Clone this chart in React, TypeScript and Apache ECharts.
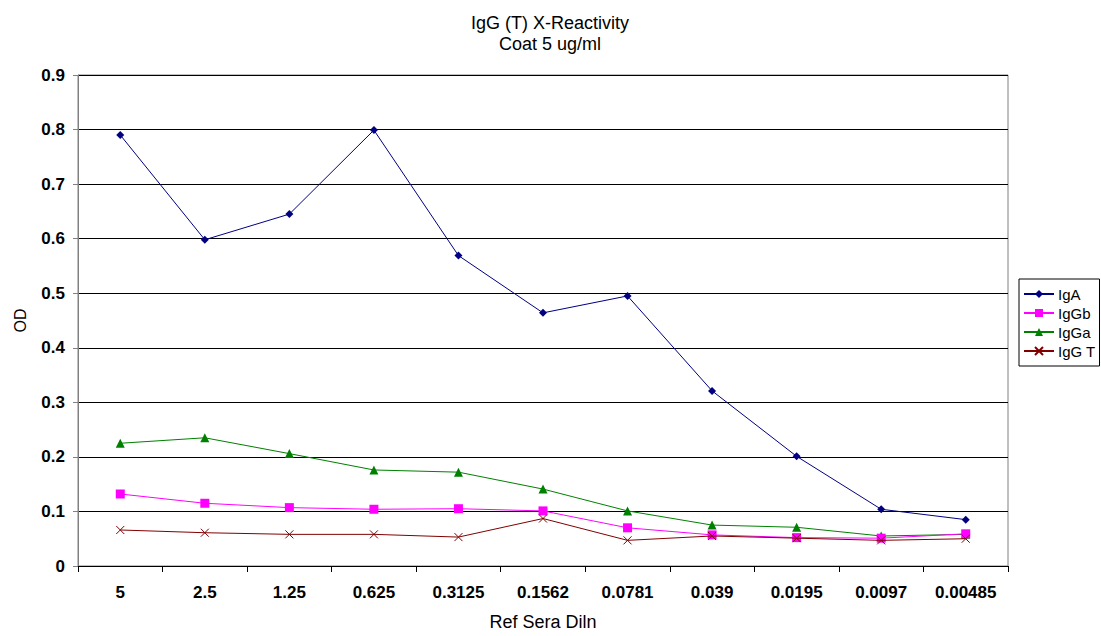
import React, { useEffect, useRef } from "react";
import * as echarts from "echarts";

const categories = ["5", "2.5", "1.25", "0.625", "0.3125", "0.1562", "0.0781", "0.039", "0.0195", "0.0097", "0.00485"];
const igA = [0.79, 0.598, 0.645, 0.799, 0.569, 0.464, 0.495, 0.321, 0.201, 0.104, 0.085];
const igGb = [0.132, 0.115, 0.107, 0.104, 0.105, 0.101, 0.07, 0.057, 0.052, 0.051, 0.059];
const igGa = [0.225, 0.235, 0.206, 0.176, 0.172, 0.141, 0.101, 0.075, 0.071, 0.055, 0.058];
const igGT = [0.066, 0.061, 0.058, 0.058, 0.053, 0.087, 0.047, 0.055, 0.051, 0.047, 0.05];
const yTicks = [0, 0.1, 0.2, 0.3, 0.4, 0.5, 0.6, 0.7, 0.8, 0.9];

export default function App() {
  const ref = useRef<HTMLDivElement>(null);
  useEffect(() => {
    if (!ref.current) return;
    const chart = echarts.init(ref.current, undefined, { renderer: "svg" });
    const font = "Arial, 'Liberation Sans', sans-serif";
    const cross = "path://M0,0L10,10M10,0L0,10";
    chart.setOption({
      animation: false,
      backgroundColor: "#fff",
      textStyle: { fontFamily: font },
      title: {
        text: "IgG (T) X-Reactivity\nCoat 5 ug/ml",
        left: 545,
        top: 7,
        textAlign: "center",
        textStyle: { fontFamily: font, fontSize: 18, fontWeight: "normal", color: "#000", lineHeight: 21 },
      },
      legend: {
        orient: "vertical",
        left: 1019,
        top: 279,
        width: 80,
        borderColor: "#000",
        borderWidth: 1,
        padding: [7, 4, 7, 4],
        itemGap: 3,
        itemWidth: 30,
        itemHeight: 10,
        textStyle: { fontFamily: font, fontSize: 15, lineHeight: 16, color: "#000", padding: [0, 0, 0, -1] },
        data: ["IgA", "IgGb", "IgGa", "IgG T"],
      },
      grid: { left: 78, top: 75, width: 930, height: 497, show: true, borderColor: "#808080", borderWidth: 1 },
      xAxis: {
        type: "category",
        data: categories,
        boundaryGap: true,
        name: "Ref Sera Diln",
        nameLocation: "middle",
        nameGap: 47,
        nameTextStyle: { fontFamily: font, fontSize: 18, color: "#000" },
        axisLine: { lineStyle: { color: "#000", width: 1 } },
        axisTick: { show: true, length: 6, alignWithLabel: false, lineStyle: { color: "#000" } },
        axisLabel: { fontFamily: font, fontSize: 17, fontWeight: "bold", color: "#000", margin: 18, interval: 0 },
        splitLine: { show: false },
      },
      yAxis: {
        type: "value",
        min: 0,
        max: 0.9,
        interval: 0.1,
        name: "OD",
        nameLocation: "middle",
        nameGap: 50,
        nameTextStyle: { fontFamily: font, fontSize: 16, color: "#000" },
        axisLine: { show: true, lineStyle: { color: "#808080", width: 1 } },
        axisTick: { show: true, length: 5, lineStyle: { color: "#808080" } },
        axisLabel: {
          fontFamily: font,
          fontSize: 17,
          fontWeight: "bold",
          color: "#000",
          margin: 13,
          formatter: (v: number) => {
            const t = yTicks.find((x) => Math.abs(x - v) < 1e-9);
            return t === undefined ? "" : t === 0 ? "0" : String(t);
          },
        },
        splitLine: { show: true, lineStyle: { color: "#000", width: 1 } },
      },
      series: [
        {
          name: "IgA",
          type: "line",
          data: igA,
          symbol: "diamond",
          symbolSize: 8,
          lineStyle: { color: "#000080", width: 1 },
          itemStyle: { color: "#000080" },
          z: 5,
        },
        {
          name: "IgGb",
          type: "line",
          data: igGb,
          symbol: "rect",
          symbolSize: 9,
          lineStyle: { color: "#FF00FF", width: 1 },
          itemStyle: { color: "#FF00FF" },
          z: 4,
        },
        {
          name: "IgGa",
          type: "line",
          data: igGa,
          symbol: "triangle",
          symbolSize: 9,
          lineStyle: { color: "#008000", width: 1 },
          itemStyle: { color: "#008000" },
          z: 3,
        },
        {
          name: "IgG T",
          type: "line",
          data: igGT,
          symbol: cross,
          symbolSize: 8,
          lineStyle: { color: "#800000", width: 1 },
          itemStyle: { color: "#800000", borderColor: "#800000", borderWidth: 1 },
          z: 6,
        },
      ],
    });
    return () => chart.dispose();
  }, []);
  return <div ref={ref} style={{ width: 1101, height: 636, position: "absolute", left: 0, top: 0 }} />;
}
